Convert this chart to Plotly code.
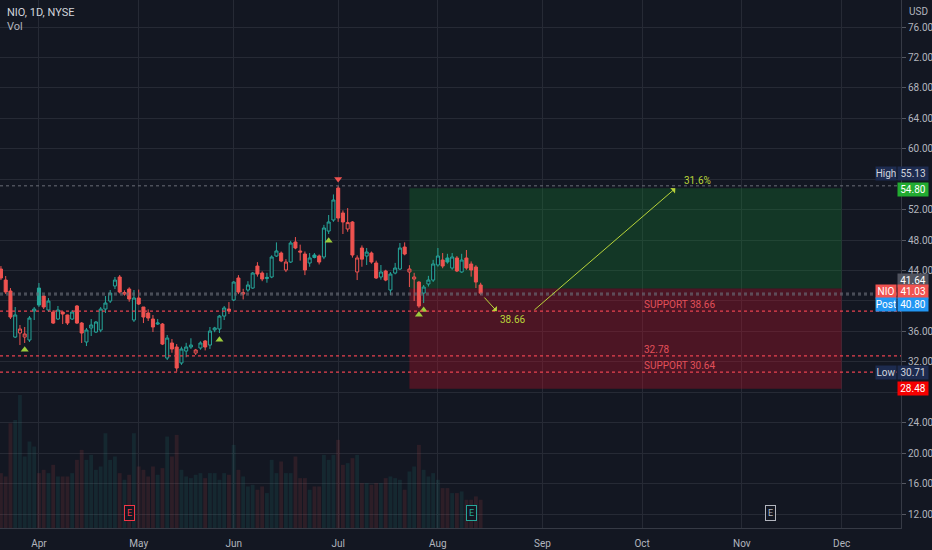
import pandas as pd
import plotly.graph_objects as go

# NIO daily candles (Mar 22 - Aug 13 2021)
opens = [44.20, 42.75, 41.31, 35.26, 35.79, 35.26, 34.87, 38.68, 41.70, 40.65,
         38.81, 38.55, 37.63, 38.55, 38.16, 37.63, 39.34, 37.10, 34.61, 36.45,
         35.92, 36.18, 38.94, 39.99, 41.97, 43.15, 40.91, 41.57, 37.50, 40.39,
         39.21, 38.42, 37.63, 36.97, 36.97, 32.50, 34.48, 33.95, 31.85, 33.42,
         33.95, 33.16, 33.82, 34.74, 34.21, 36.20, 36.32, 38.02, 38.94, 40.13,
         43.02, 40.91, 41.44, 41.70, 44.59, 43.67, 42.95, 43.15, 45.91, 46.30,
         44.07, 45.12, 47.75, 46.57, 46.17, 44.99, 46.04, 45.91, 45.78, 49.19,
         50.64, 54.84, 51.56, 49.46, 50.38, 43.81, 46.96, 45.91, 46.30, 44.99,
         43.15, 43.94, 41.44, 43.67, 44.20, 47.09, 43.81, 42.89, 42.49, 41.04,
         42.23, 42.75, 44.73, 45.38, 45.65, 44.33, 45.65, 43.81, 45.65, 44.86,
         44.46, 42.10]
highs = [44.59, 43.28, 41.70, 39.21, 36.84, 36.58, 38.02, 39.21, 42.36, 40.70,
         40.39, 38.81, 39.34, 38.60, 38.20, 38.81, 39.47, 37.24, 36.45, 37.63,
         37.37, 39.20, 40.65, 41.44, 43.15, 43.41, 41.40, 41.80, 41.44, 41.50,
         39.21, 38.90, 38.16, 37.63, 37.10, 35.53, 35.00, 34.34, 34.00, 34.50,
         35.10, 33.70, 34.70, 34.87, 36.58, 36.60, 38.16, 39.34, 39.86, 42.60,
         43.40, 41.60, 42.60, 43.80, 45.10, 43.90, 43.70, 46.00, 47.70, 46.50,
         45.50, 47.90, 48.40, 47.40, 46.50, 46.30, 46.30, 46.10, 50.00, 51.30,
         54.00, 55.13, 51.90, 52.20, 50.50, 46.00, 47.30, 46.96, 46.50, 45.30,
         44.73, 44.10, 43.80, 45.00, 47.62, 47.70, 44.70, 43.70, 42.60, 42.10,
         43.30, 45.40, 46.96, 46.30, 46.20, 46.30, 45.90, 46.20, 46.70, 45.20,
         44.70, 42.40]
lows = [42.75, 40.91, 37.63, 35.13, 34.21, 34.48, 34.61, 37.50, 39.21, 38.94,
        38.55, 36.97, 37.50, 36.97, 36.84, 37.50, 36.97, 34.48, 34.08, 35.40,
        35.79, 35.90, 38.42, 39.73, 41.57, 41.00, 40.70, 39.90, 37.24, 39.47,
        37.10, 37.37, 35.92, 36.84, 34.21, 32.24, 33.20, 30.71, 31.60, 32.60,
        33.70, 32.90, 33.60, 33.50, 33.70, 35.90, 35.79, 37.50, 38.29, 39.99,
        40.90, 40.20, 41.20, 41.60, 43.20, 42.60, 42.40, 43.00, 45.80, 45.10,
        43.80, 45.00, 46.80, 45.30, 43.40, 44.50, 45.60, 44.80, 45.50, 48.80,
        50.40, 50.40, 48.80, 49.10, 45.70, 42.75, 44.50, 44.73, 44.90, 42.90,
        42.80, 42.60, 40.78, 43.50, 44.07, 46.00, 41.83, 40.00, 39.10, 39.73,
        41.90, 42.50, 44.50, 44.30, 44.90, 44.10, 43.80, 43.70, 44.10, 43.20,
        41.70, 40.80]
closes = [43.02, 41.18, 37.89, 38.16, 36.32, 35.66, 37.76, 38.94, 39.47, 39.21,
          39.99, 37.10, 38.81, 38.29, 37.10, 38.55, 37.10, 35.79, 36.18, 36.84,
          37.24, 38.94, 39.73, 41.04, 42.75, 41.18, 41.10, 40.26, 40.39, 39.60,
          37.89, 37.76, 36.58, 37.10, 34.34, 35.13, 33.69, 31.19, 33.69, 33.95,
          34.21, 33.56, 34.48, 33.95, 36.05, 36.45, 38.02, 39.08, 38.68, 42.49,
          41.18, 41.10, 42.10, 43.67, 43.54, 42.89, 43.10, 45.78, 46.57, 45.25,
          45.12, 47.62, 46.96, 46.43, 44.07, 45.65, 45.72, 45.12, 49.59, 50.38,
          53.27, 50.90, 50.38, 50.30, 46.04, 45.65, 45.50, 46.43, 45.12, 43.02,
          43.81, 42.75, 43.54, 44.33, 46.96, 46.17, 44.20, 43.15, 39.34, 41.83,
          42.75, 44.86, 45.91, 44.59, 45.12, 45.78, 43.94, 45.38, 44.33, 44.07,
          42.49, 41.03]
# volume in millions of shares
volumes = [66, 62, 126, 130, 160, 86, 104, 98, 66, 70,
           66, 76, 62, 62, 62, 66, 82, 94, 82, 88,
           70, 74, 114, 82, 86, 66, 58, 64, 114, 74,
           70, 62, 74, 64, 72, 110, 86, 112, 70, 62,
           60, 64, 66, 60, 66, 66, 58, 66, 64, 100,
           70, 62, 50, 52, 46, 50, 42, 82, 66, 80,
           66, 66, 86, 60, 60, 46, 50, 50, 88, 82,
           88, 106, 76, 78, 84, 88, 54, 54, 52, 54,
           54, 60, 62, 60, 58, 46, 68, 74, 100, 70,
           62, 66, 58, 48, 48, 42, 42, 44, 34, 34,
           38, 34]

# trading calendar (NYSE holidays) used for the bar index axis
holidays = ["2021-04-02", "2021-05-31", "2021-07-05", "2021-09-06", "2021-11-25"]
month_labels = ["Apr", "May", "Jun", "Jul", "Aug", "Sep", "Oct", "Nov", "Dec"]

# drawings on the chart
high_price, low_price = 55.13, 30.71
last_price, post_price = 41.03, 40.80
entry, target, stop = 41.64, 54.80, 28.48
supports = [38.66, 32.78, 30.64]
support_text = ["SUPPORT 38.66", "32.78", "SUPPORT 30.64"]
gain_text = "31.6%"
earnings = ["2021-04-29", "2021-08-11", "2021-11-09"]
earnings_col = ["#f23645", "#26a69a", "#b2b5be"]
up_signals = ["2021-03-29", "2021-05-26", "2021-06-29", "2021-07-27", "2021-07-28"]
down_signals = ["2021-07-01"]

BG = "#131722"
GRID = "#262a35"
TXT = "#b2b5be"
TEAL = "#26a69a"
RED = "#ef5350"
ARROW = "#b9d43a"
MARK_GAP = 0.9  # distance of signal triangles from the candle, in price units

days = pd.bdate_range("2021-03-22", "2021-12-31")
days = days[~days.isin(pd.to_datetime(holidays))]
pos = {d.strftime("%Y-%m-%d"): i for i, d in enumerate(days)}
n = len(closes)
dates = [d.strftime("%Y-%m-%d") for d in days[:n]]
idx = list(range(n))

month_idx = []
for m in range(4, 13):
    month_idx.append(int(next(i for i, d in enumerate(days) if d.month == m)))

fig = go.Figure()

# volume (overlaid at the bottom like TradingView)
vol_col = ["rgba(38,166,154,0.12)" if c >= o else "rgba(239,83,80,0.12)" for o, c in zip(opens, closes)]
fig.add_trace(go.Bar(x=idx, y=volumes, marker_color=vol_col, marker_line_width=0,
                     width=0.8, yaxis="y2", hoverinfo="skip", showlegend=False))

# hollow candles: colour by change vs previous close, fill by close vs open
up = [i for i in idx if i > 0 and closes[i] >= closes[i - 1]]
dn = [i for i in idx if i not in up]
for sel, col in [(up, TEAL), (dn, RED)]:
    fig.add_trace(go.Candlestick(
        x=sel,
        open=[opens[i] for i in sel], high=[highs[i] for i in sel],
        low=[lows[i] for i in sel], close=[closes[i] for i in sel],
        text=[dates[i] for i in sel],
        increasing=dict(line=dict(color=col, width=1), fillcolor=BG),
        decreasing=dict(line=dict(color=col, width=1), fillcolor=col),
        whiskerwidth=0, showlegend=False))

# signal triangles
ux = [pos[d] for d in up_signals]
fig.add_trace(go.Scatter(x=ux, y=[lows[i] - MARK_GAP for i in ux], mode="markers",
                         marker=dict(symbol="triangle-up", size=7, color="#9ccc3c"),
                         showlegend=False, hoverinfo="skip"))
dx = [pos[d] for d in down_signals]
fig.add_trace(go.Scatter(x=dx, y=[highs[i] + MARK_GAP for i in dx], mode="markers",
                         marker=dict(symbol="triangle-down", size=7, color=RED),
                         showlegend=False, hoverinfo="skip"))

# long position box
box_x0, box_x1 = pos["2021-07-23"], pos["2021-12-01"]
fig.add_shape(type="rect", x0=box_x0, x1=box_x1, y0=entry, y1=target, layer="between",
              fillcolor="rgba(20,140,50,0.28)", line_width=0)
fig.add_shape(type="rect", x0=box_x0, x1=box_x1, y0=stop, y1=entry, layer="between",
              fillcolor="rgba(200,20,40,0.32)", line_width=0)

# horizontal level lines
for lvl in [high_price, last_price, post_price]:
    fig.add_shape(type="line", xref="paper", x0=0, x1=1, y0=lvl, y1=lvl,
                  line=dict(color="#6a6d78", width=1, dash="dot"))
for lvl, txt in zip(supports, support_text):
    fig.add_shape(type="line", xref="paper", x0=0, x1=1, y0=lvl, y1=lvl,
                  line=dict(color="#e8424f", width=1.3, dash="dot"))
    fig.add_annotation(x=pos["2021-10-01"], y=lvl, text=txt, showarrow=False,
                       xanchor="left", yanchor="bottom", yshift=-1,
                       font=dict(size=10, color="#e2505a"))

# projection arrows
fig.add_annotation(x=pos["2021-10-12"], y=target, ax=pos["2021-08-30"], ay=supports[0],
                   xref="x", yref="y", axref="x", ayref="y", text="", showarrow=True,
                   arrowhead=1, arrowsize=1.2, arrowwidth=1, arrowcolor=ARROW)
fig.add_annotation(x=pos["2021-08-18"] + 0.4, y=supports[0], ax=n - 0.5, ay=post_price - 0.15,
                   xref="x", yref="y", axref="x", ayref="y", text="", showarrow=True,
                   arrowhead=1, arrowsize=1.2, arrowwidth=1, arrowcolor=ARROW)
fig.add_annotation(x=pos["2021-08-23"] + 0.6, y=supports[0], text=f"{supports[0]:.2f}",
                   showarrow=False, yanchor="top", yshift=-1, font=dict(size=10, color=ARROW))
fig.add_annotation(x=pos["2021-10-13"] + 0.4, y=target, text=gain_text, showarrow=False,
                   xanchor="left", yanchor="bottom", font=dict(size=10, color=ARROW))

# earnings markers
for d, col in zip(earnings, earnings_col):
    fig.add_annotation(x=pos[d], y=0, yref="paper", text="E", showarrow=False,
                       yanchor="bottom", yshift=7, bordercolor=col, borderwidth=1,
                       borderpad=2, bgcolor=BG, font=dict(size=9, color=col))

# price scale labels
def scale_label(price, text, bg, fg="#ffffff", name=None, shift=0):
    fig.add_annotation(xref="paper", x=1, xanchor="left", xshift=-4, y=price,
                       yshift=shift, text=text, showarrow=False, bgcolor=bg,
                       width=30, height=13, borderpad=0, font=dict(size=10, color=fg))
    if name:
        fig.add_annotation(xref="paper", x=1, xanchor="right", xshift=-4, y=price,
                           yshift=shift, text=name, showarrow=False, bgcolor=bg,
                           width=20, height=13, borderpad=0, font=dict(size=10, color=fg))

scale_label(high_price, f"{high_price:.2f}", "#1d2b4f", "#d1d4dc", "High", 12)
scale_label(target, f"{target:.2f}", "#22ab31", shift=-1)
scale_label(entry, f"{entry:.2f}", "#50535e", shift=8)
scale_label(last_price, f"{last_price:.2f}", "#f05350", name="NIO", shift=2)
scale_label(post_price, f"{post_price:.2f}", "#2196f3", name="Post", shift=-10)
scale_label(low_price, f"{low_price:.2f}", "#1d2b4f", "#d1d4dc", "Low", -1)
scale_label(stop, f"{stop:.2f}", "#f50000", shift=0)

# header texts
fig.add_annotation(xref="paper", yref="paper", x=0, y=1, xanchor="left", yanchor="top",
                   xshift=5, yshift=-4, text="NIO, 1D, NYSE", showarrow=False,
                   font=dict(size=11, color="#d1d4dc"))
fig.add_annotation(xref="paper", yref="paper", x=0, y=1, xanchor="left", yanchor="top",
                   xshift=5, yshift=-18, text="Vol", showarrow=False,
                   font=dict(size=11, color="#b2b5be"))
fig.add_annotation(xref="paper", yref="paper", x=1, y=1, xanchor="left", yanchor="top",
                   xshift=6, yshift=-4, text="USD", showarrow=False,
                   font=dict(size=10, color=TXT))

yticks = list(range(12, 80, 4))
ytext = ["" if v in (56, 40, 28) else f"{v:.2f}" for v in yticks]

fig.update_layout(
    width=932, height=550,
    margin=dict(l=0, r=31, t=0, b=22, autoexpand=False),
    paper_bgcolor=BG, plot_bgcolor=BG,
    font=dict(family="Roboto, sans-serif", size=10, color=TXT),
    boxmode="overlay", boxgap=0.2, boxgroupgap=0.2,
    showlegend=False, hovermode="closest",
    xaxis=dict(range=[-0.2, 189.5], tickvals=month_idx, ticktext=month_labels,
               showgrid=True, gridcolor=GRID, zeroline=False, rangeslider=dict(visible=False),
               showline=True, linecolor="#363a45", ticks="outside", ticklen=6,
               tickcolor=BG, tickfont=dict(size=10, color=TXT)),
    yaxis=dict(range=[10.17, 79.55], side="right", tickvals=yticks, ticktext=ytext,
               showgrid=True, gridcolor=GRID, zeroline=False, showline=True,
               linecolor="#363a45", ticks="outside", ticklen=4, tickcolor="#555862",
               tickfont=dict(size=10, color=TXT)),
    yaxis2=dict(overlaying="y", range=[0, 635], visible=False),
)

# the page body has a default margin; remove it so the 932x550 figure fills the window
fig.write_html("out.html", config={"displayModeBar": False},
               post_script="document.body.style.margin='0';")
